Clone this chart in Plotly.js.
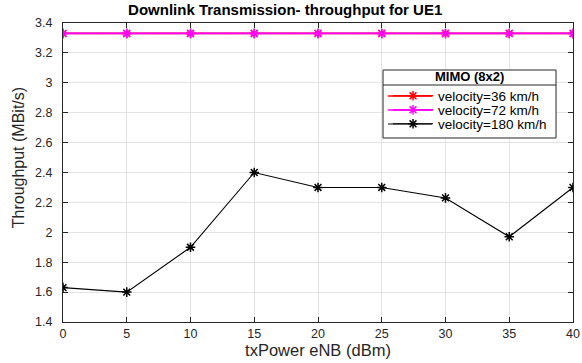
<!DOCTYPE html>
<html>
<head>
<meta charset="utf-8">
<script src="https://cdn.plot.ly/plotly-3.0.1.min.js"></script>
<style>
  html, body { margin: 0; padding: 0; background: #fff; }
  #chart { width: 582px; height: 363px; }
</style>
</head>
<body>
<div id="chart"></div>
<script>
// Transmit power of the eNB (dBm)
const txPower = [0, 5, 10, 15, 20, 25, 30, 35, 40];
// Downlink throughput for UE1 (MBit/s), MIMO 8x2
const thr36 = [3.33, 3.33, 3.33, 3.33, 3.33, 3.33, 3.33, 3.33, 3.33];
const thr72 = [3.33, 3.33, 3.33, 3.33, 3.33, 3.33, 3.33, 3.33, 3.33];
const thr180 = [1.63, 1.60, 1.90, 2.40, 2.30, 2.30, 2.23, 1.97, 2.30];
const seriesNames = ['velocity=36 km/h', 'velocity=72 km/h', 'velocity=180 km/h'];
const seriesColors = ['#ff0000', '#ff00ff', '#000000'];
const yTicks = [1.4, 1.6, 1.8, 2, 2.2, 2.4, 2.6, 2.8, 3, 3.2, 3.4];
const yTickText = ['1.4', '1.6', '1.8', '2', '2.2', '2.4', '2.6', '2.8', '3', '3.2', '3.4'];
const legendHeading = 'MIMO (8x2)';

const font = 'Liberation Sans, Arial, sans-serif';
const ink = '#262626';

// Legend box geometry (paper coordinates)
const box = { x0: 0.6275, x1: 0.9667, y0: 0.6154, y1: 0.8428, sep: 0.7926 };
const rowY = [0.7559, 0.7090, 0.6622];
const sample = { x0: 0.6373, x1: 0.7235 };
const legendKeys = ['legend', 'legend2', 'legend3'];

const traces = [thr36, thr72, thr180].map((y, i) => ({
  x: txPower,
  y: y,
  name: seriesNames[i],
  legend: legendKeys[i],
  type: 'scatter',
  mode: 'lines+markers',
  line: { color: seriesColors[i], width: i === 2 ? 1.1 : 1.7 },
  marker: { symbol: 'asterisk-open', size: 8, color: seriesColors[i], line: { color: seriesColors[i], width: 1.5 } }
}));

const axisCommon = {
  showline: true, linecolor: ink, linewidth: 1, mirror: 'ticks',
  ticks: 'inside', ticklen: 5, tickcolor: ink,
  showgrid: true, gridcolor: '#e3e3e3', gridwidth: 1,
  zeroline: false,
  tickfont: { family: font, size: 12.5, color: ink }
};

const layout = {
  width: 582, height: 363,
  margin: { l: 63, r: 9, t: 23, b: 41 },
  paper_bgcolor: '#fff', plot_bgcolor: '#fff',
  title: {
    text: '<b>Downlink Transmission- throughput for UE1</b>',
    font: { family: font, size: 15, color: '#000' },
    xref: 'container', x: 0.49, xanchor: 'center',
    yref: 'container', y: 0.972, yanchor: 'middle'
  },
  xaxis: Object.assign({}, axisCommon, {
    range: [0, 40], tickvals: txPower,
    title: { text: 'txPower eNB (dBm)', font: { family: font, size: 16.5, color: ink }, standoff: 3 }
  }),
  yaxis: Object.assign({}, axisCommon, {
    range: [1.4, 3.4], tickvals: yTicks, ticktext: yTickText,
    ticklabelstandoff: 7
  }),
  annotations: [
    {
      text: 'Throughput (MBit/s)', textangle: -90, showarrow: false,
      xref: 'paper', yref: 'paper', x: -0.088, y: 0.548, xanchor: 'center', yanchor: 'middle',
      font: { family: font, size: 16, color: ink }
    },
    {
      text: '<b>' + legendHeading + '</b>', showarrow: false,
      xref: 'paper', yref: 'paper', x: (box.x0 + box.x1) / 2, y: 0.8194, xanchor: 'center', yanchor: 'middle',
      font: { family: font, size: 13, color: '#000' }
    }
  ],
  shapes: [
    { type: 'rect', xref: 'paper', yref: 'paper', x0: box.x0, x1: box.x1, y0: box.y0, y1: box.y1,
      fillcolor: '#fff', line: { color: ink, width: 1 }, layer: 'above' },
    { type: 'line', xref: 'paper', yref: 'paper', x0: box.x0, x1: box.x1, y0: box.sep, y1: box.sep,
      line: { color: ink, width: 1 }, layer: 'above' }
  ].concat(rowY.map((ry, i) => ({
    type: 'line', xref: 'paper', yref: 'paper', x0: sample.x0, x1: sample.x1, y0: ry, y1: ry,
    line: { color: seriesColors[i], width: i === 2 ? 1.1 : 1.7 }, layer: 'above'
  }))),
  showlegend: true
};

legendKeys.forEach((k, i) => {
  layout[k] = {
    x: sample.x0, y: rowY[i], xanchor: 'left', yanchor: 'middle',
    bgcolor: 'rgba(0,0,0,0)', borderwidth: 0,
    font: { family: font, size: 13.5, color: '#000' },
    itemwidth: 40
  };
});

Plotly.newPlot('chart', traces, layout, { displayModeBar: false, staticPlot: true });
</script>
</body>
</html>
